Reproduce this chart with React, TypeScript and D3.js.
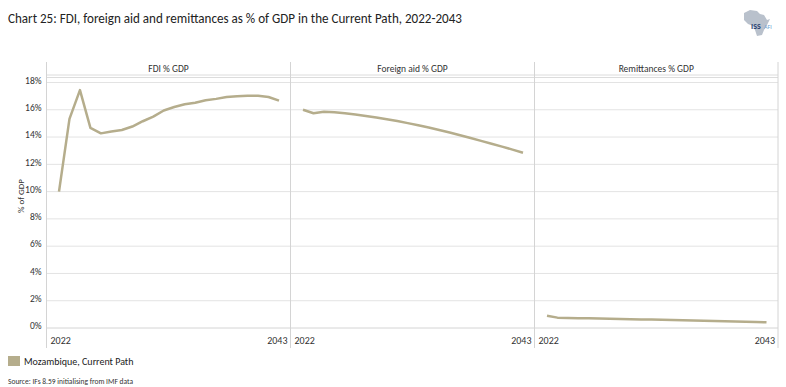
import React from "react";
import * as d3 from "d3";

const years: number[] = d3.range(2022, 2044);
const panelTitles: string[] = ["FDI % GDP", "Foreign aid % GDP", "Remittances % GDP"];
const fdi: number[] = [10.0, 15.33, 17.44, 14.67, 14.27, 14.4, 14.52, 14.77, 15.16, 15.5, 15.95, 16.2, 16.4, 16.52, 16.7, 16.8, 16.94, 17.0, 17.03, 17.03, 16.94, 16.67];
const aid: number[] = [16.0, 15.75, 15.85, 15.82, 15.75, 15.65, 15.55, 15.43, 15.3, 15.17, 15.02, 14.87, 14.7, 14.52, 14.33, 14.13, 13.93, 13.72, 13.51, 13.3, 13.08, 12.85];
const remit: number[] = [0.9, 0.76, 0.74, 0.72, 0.71, 0.69, 0.68, 0.66, 0.65, 0.63, 0.62, 0.6, 0.59, 0.57, 0.55, 0.54, 0.52, 0.5, 0.48, 0.46, 0.44, 0.42];
const yTicks: number[] = [0, 2, 4, 6, 8, 10, 12, 14, 16, 18];
const seriesName = "Mozambique, Current Path";
const title = "Chart 25: FDI, foreign aid and remittances as % of GDP in the Current Path, 2022-2043";
const source = "Source: IFs 8.59 initialising from IMF data";

const FONT = "Carlito, Calibri, Lato, 'Open Sans', sans-serif";
const LINE = "#b5ad8c";

export default function App() {
  const W = 786, H = 387;
  const edges = [46.5, 290.5, 534.5, 778];
  const top = 62, headerBottom = 75, bottom = 328;
  const y = d3.scaleLinear().domain([0, 18]).range([bottom, 82.5]);
  const data = [fdi, aid, remit];

  return (
    <svg width={W} height={H} style={{ position: "absolute", left: 0, top: 0, background: "#fff" }} fontFamily={FONT}>
      <text x={8} y={23} fontSize={14.5} fill="#222" textLength={454} lengthAdjust="spacingAndGlyphs">{title}</text>

      {/* logo */}
      <g>
        <path d="M744,13 L750,10 L757,11 L760,14 L764,15 L767,20 L770,19 L767,25 L764,30 L762,35 L757,36 L755,30 L753,26 L748,24 L744,20 Z" fill="#b9c1cc" />
        <text x={751} y={29} fontSize={8} fill="#1f3b6e" fontWeight="bold">ISS</text>
        <text x={764} y={29} fontSize={6} fill="#6a9fd0">AFI</text>
      </g>

      {/* gridlines */}
      {yTicks.map((t) => (
        <line key={t} x1={edges[0]} x2={edges[3]} y1={y(t)} y2={y(t)} stroke={t === 0 ? "#d4d4d4" : "#e3e3e3"} strokeWidth={1} />
      ))}
      {/* header lines */}
      <line x1={edges[0]} x2={edges[3]} y1={headerBottom} y2={headerBottom} stroke="#dcdcdc" />
      <line x1={edges[0]} x2={edges[3]} y1={headerBottom + 2.5} y2={headerBottom + 2.5} stroke="#dcdcdc" />
      {/* vertical separators */}
      {edges.map((e, i) => (
        <line key={i} x1={e} x2={e} y1={top} y2={348} stroke="#d4d4d4" />
      ))}

      {/* y ticks */}
      {yTicks.map((t) => (
        <text key={t} x={41.5} y={y(t) - 2} dy="0.35em" textAnchor="end" fontSize={9.5} fill="#333">{t}%</text>
      ))}
      <text transform={`translate(21,196) rotate(-90)`} dy="0.35em" textAnchor="middle" fontSize={9} fill="#333">% of GDP</text>

      {data.map((vals, i) => {
        const left = edges[i], right = edges[i + 1];
        const x = d3.scaleLinear().domain([2022, 2043]).range([left + 12.5, right - 11.5]);
        const line = d3.line<number>().x((_, j) => x(years[j])).y((v) => y(v));
        return (
          <g key={i}>
            <text x={(left + right) / 2} y={69} dy="0.35em" textAnchor="middle" fontSize={9.5} fill="#333">{panelTitles[i]}</text>
            <path d={line(vals) || ""} fill="none" stroke={LINE} strokeWidth={2.5} strokeLinejoin="round" />
            <text x={left + 4} y={340} dy="0.35em" fontSize={10} fill="#333">{years[0]}</text>
            <text x={right - 3} y={340} dy="0.35em" textAnchor="end" fontSize={10} fill="#333">{years[years.length - 1]}</text>
          </g>
        );
      })}

      {/* legend */}
      <rect x={8} y={356} width={12} height={10} fill={LINE} />
      <text x={24} y={361} dy="0.35em" fontSize={10} fill="#222">{seriesName}</text>
      <text x={8} y={381} dy="0.35em" fontSize={7.5} fill="#333">{source}</text>
    </svg>
  );
}
